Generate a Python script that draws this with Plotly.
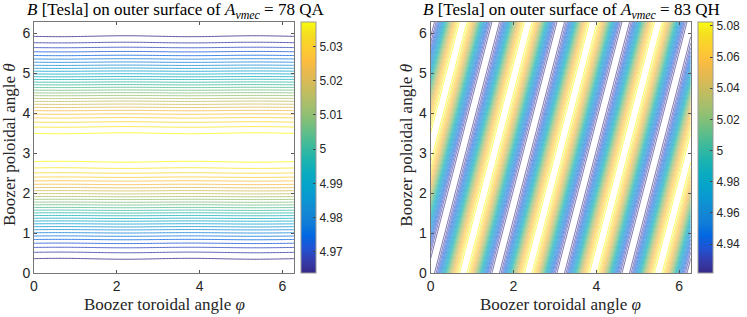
import numpy as np
import plotly.graph_objects as go

# ---- data: Boozer spectra ----
qa_m = [0, 1, 0]
qa_n = [0, 0, 2]
qa_b = [5.0005, -0.0365, 0.00015]
qa_phase = [0.0, 0.0, 4.4]

qh_m = [0, 1]
qh_n = [0, 4]
qh_b = [5.002, -0.0805]
qh_phase = [0.0, 0.0]

n_levels = 29
x_ticks = [0, 2, 4, 6]
y_ticks = [0, 1, 2, 3, 4, 5, 6]
qa_cbar_ticks = [4.97, 4.98, 4.99, 5.00, 5.01, 5.02, 5.03]
qh_cbar_ticks = [4.94, 4.96, 4.98, 5.00, 5.02, 5.04, 5.06, 5.08]

# parula colormap
parula = [
    [0.2081, 0.1663, 0.5292], [0.2081, 0.2386, 0.6771], [0.1253, 0.3242, 0.8303],
    [0.0059, 0.4086, 0.8828], [0.0723, 0.4887, 0.8467], [0.0749, 0.5375, 0.8263],
    [0.0343, 0.5966, 0.8199], [0.0231, 0.6418, 0.7913], [0.0384, 0.6743, 0.7436],
    [0.1133, 0.7015, 0.6859], [0.2178, 0.7250, 0.6193], [0.3482, 0.7424, 0.5473],
    [0.4871, 0.7491, 0.4840], [0.6099, 0.7473, 0.4337], [0.7184, 0.7411, 0.3905],
    [0.8185, 0.7327, 0.3498], [0.9139, 0.7258, 0.3063], [0.9938, 0.7455, 0.2403],
    [0.9880, 0.8066, 0.1794], [0.9626, 0.8705, 0.1309], [0.9763, 0.9831, 0.0538],
]
cs = [[i / (len(parula) - 1), "rgb(%d,%d,%d)" % tuple(int(round(c * 255)) for c in p)]
      for i, p in enumerate(parula)]

W, H = 747, 317
def px(x):
    return x / W
def py(y):
    return 1 - y / H

def field(m, n, b, ph, npts):
    phi = np.linspace(0, 2 * np.pi, npts)
    th = np.linspace(0, 2 * np.pi, npts)
    P, T = np.meshgrid(phi, th)
    B = np.zeros_like(P)
    for mm, nn, bb, pp in zip(m, n, b, ph):
        B += bb * np.cos(mm * T - nn * P + pp)
    return phi, th, B

fig = go.Figure()
panels = [
    (field(qa_m, qa_n, qa_b, qa_phase, 181), "x", "y", 34, 294, 301, qa_cbar_ticks, "78 QA", 0.8),
    (field(qh_m, qh_n, qh_b, qh_phase, 301), "x2", "y2", 430.7, 690.8, 698, qh_cbar_ticks, "83 QH", 0.7),
]
ax_top, ax_bot = 22, 273
serif = "Liberation Serif, Times New Roman, serif"
for (phi, th, B), xa, ya, x0, x1, cbx, cticks, name, lw in panels:
    zmin, zmax = float(B.min()), float(B.max())
    step = (zmax - zmin) / (n_levels + 1)
    fig.add_trace(go.Contour(
        x=phi, y=th, z=B, xaxis=xa, yaxis=ya,
        colorscale=cs, zmin=zmin, zmax=zmax, showscale=False,
        contours=dict(coloring="lines", start=zmin + step, end=zmax - step * 0.5, size=step),
        line=dict(width=lw), hoverinfo="skip",
    ))
    fig.add_trace(go.Scatter(
        x=[None], y=[None], xaxis=xa, yaxis=ya, mode="markers", hoverinfo="skip",
        marker=dict(color=[zmin, zmax], colorscale=cs, cmin=zmin, cmax=zmax, showscale=True,
                    colorbar=dict(x=px(cbx), xanchor="left", xpad=0, ypad=0,
                                  y=py((ax_top + ax_bot) / 2), yanchor="middle",
                                  len=ax_bot - ax_top, lenmode="pixels",
                                  thickness=15, thicknessmode="pixels",
                                  outlinecolor="#999999", outlinewidth=1,
                                  tickvals=cticks, ticktext=["%g" % t for t in cticks],
                                  ticks="inside", ticklen=3, tickcolor="#444",
                                  tickfont=dict(family="Liberation Sans, Arial", size=12, color="#262626"))),
        showlegend=False,
    ))
    cx = (x0 + x1) / 2
    fig.add_annotation(x=px(cx + 11), y=py(11), xref="paper", yref="paper", showarrow=False,
                       xanchor="center", yanchor="middle",
                       text="<i>B</i> [Tesla] on outer surface of <i>A<sub>vmec</sub></i> = " + name,
                       font=dict(family=serif, size=17, color="black"))
    fig.add_annotation(x=px(cx), y=py(304), xref="paper", yref="paper", showarrow=False,
                       xanchor="center", yanchor="middle",
                       text="Boozer toroidal angle <i>φ</i>",
                       font=dict(family=serif, size=17, color="#262626"))
    fig.add_annotation(x=px(x0 - 25), y=py(145), xref="paper", yref="paper",
                       showarrow=False, textangle=-90, xanchor="center", yanchor="middle",
                       text="Boozer poloidal angle <i>θ</i>",
                       font=dict(family=serif, size=17, color="#262626"))

axis_common = dict(range=[0, 2 * np.pi], showgrid=False, zeroline=False, showline=True,
                   linecolor="#777777", linewidth=1, mirror="ticks", ticks="inside",
                   ticklen=3, tickcolor="#555555",
                   tickfont=dict(family="Liberation Sans, Arial", size=14, color="#262626"))
fig.update_layout(
    width=W, height=H, margin=dict(l=0, r=0, t=0, b=0, autoexpand=False),
    paper_bgcolor="white", plot_bgcolor="white", showlegend=False,
    xaxis=dict(domain=[px(34), px(294)], anchor="y", tickvals=x_ticks, **axis_common),
    yaxis=dict(domain=[py(ax_bot), py(ax_top)], anchor="x", tickvals=y_ticks, **axis_common),
    xaxis2=dict(domain=[px(430.7), px(690.8)], anchor="y2", tickvals=x_ticks, **axis_common),
    yaxis2=dict(domain=[py(ax_bot), py(ax_top)], anchor="x2", tickvals=y_ticks, **axis_common),
)
fig.write_html("out.html", config={"displayModeBar": False},
               post_script="document.body.style.margin='0';")
